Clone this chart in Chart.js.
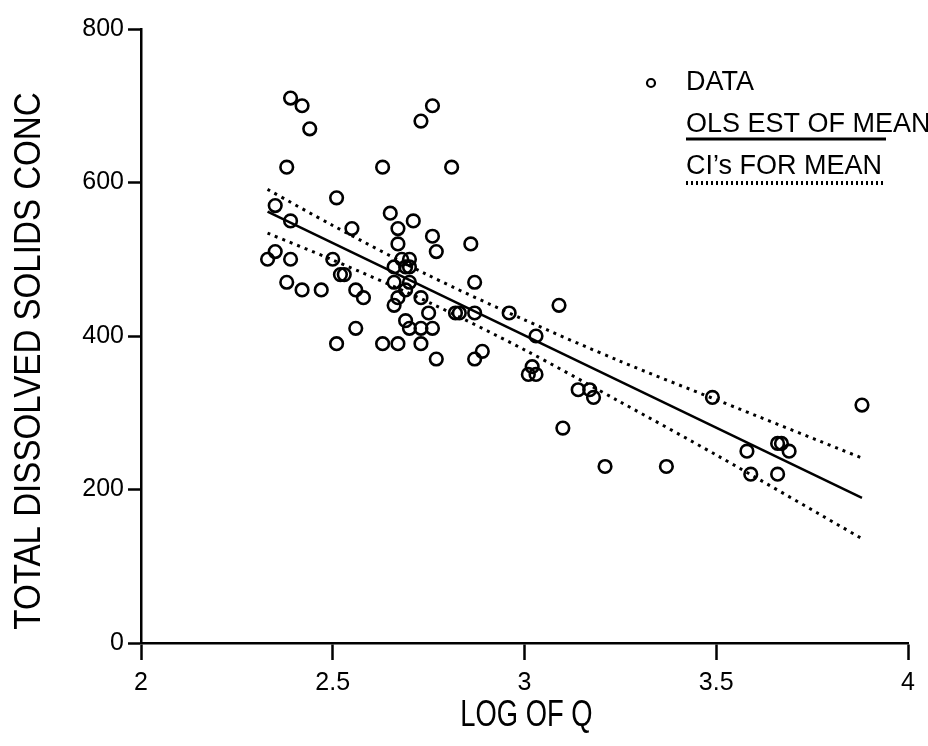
<!DOCTYPE html>
<html lang="en">

<head>
    <meta charset="UTF-8">
    <title>TDS vs log Q</title>
    <script src="https://cdn.jsdelivr.net/npm/chart.js"></script>
    <style>
        body { margin: 0; background: #fff; }
    </style>
</head>

<body>
    <canvas id="tdsChart" width="928" height="746"></canvas>
    <script>
        // observed data: log of Q and total dissolved solids
        const logQ = [2.39, 2.42, 2.44, 2.76, 2.73, 2.38, 2.63, 2.81, 2.51, 2.35,
            2.39, 2.65, 2.71, 2.55, 2.67, 2.76, 2.67, 2.77, 2.86, 2.35,
            2.33, 2.39, 2.50, 2.68, 2.70, 2.66, 2.69, 2.70, 2.52, 2.53,
            2.38, 2.66, 2.70, 2.87, 2.42, 2.47, 2.56, 2.69, 2.58, 2.67,
            2.73, 2.66, 2.75, 2.82, 2.83, 2.87, 2.69, 2.56, 2.70, 2.73,
            2.76, 2.51, 2.63, 2.67, 2.73, 2.77, 2.87, 2.89, 3.09, 2.96,
            3.03, 3.02, 3.01, 3.03, 3.14, 3.17, 3.18, 3.49, 3.10, 3.21,
            3.37, 3.88, 3.66, 3.67, 3.58, 3.69, 3.59, 3.66];
        const tds = [710, 700, 670, 700, 680, 620, 620, 620, 580, 570,
            550, 560, 550, 540, 540, 530, 520, 510, 520, 510,
            500, 500, 500, 500, 500, 490, 490, 490, 480, 480,
            470, 470, 470, 470, 460, 460, 460, 460, 450, 450,
            450, 440, 430, 430, 430, 430, 420, 410, 410, 410,
            410, 390, 390, 390, 390, 370, 370, 380, 440, 430,
            400, 360, 350, 350, 330, 330, 320, 320, 280, 230,
            230, 310, 260, 260, 250, 250, 220, 220];

        // OLS line end points
        const olsX = [2.33, 3.88];
        const olsY = [562, 189];

        // confidence band for the mean
        const ciX = [2.33, 2.5, 2.75, 3.0, 3.25, 3.5, 3.88];
        const ciUpper = [591, 544, 479, 421, 367, 317, 241];
        const ciLower = [534, 499, 444, 382, 314, 245, 136];

        const xTicks = [2, 2.5, 3, 3.5, 4];
        const yTicks = [0, 200, 400, 600, 800];

        const xTitle = 'LOG OF Q';
        const yTitle = 'TOTAL DISSOLVED SOLIDS CONC';

        const FONT = "'Liberation Sans', Arial, Helvetica, sans-serif";

        function pairs(xs, ys) {
            return xs.map((x, i) => ({ x: x, y: ys[i] }));
        }

        // axis titles in a narrow face, squeezed sideways
        const titlePlugin = {
            id: 'narrowTitles',
            afterDraw(chart) {
                const ctx = chart.ctx;
                const area = chart.chartArea;
                ctx.save();
                ctx.fillStyle = '#000';
                ctx.font = '36px ' + FONT;
                ctx.textAlign = 'center';
                ctx.textBaseline = 'middle';

                ctx.save();
                ctx.translate((area.left + area.right) / 2 + 2, area.bottom + 73);
                ctx.scale(0.76, 1);
                ctx.fillText(xTitle, 0, 0);
                ctx.restore();

                ctx.save();
                ctx.translate(30, (area.top + area.bottom) / 2 + 25);
                ctx.rotate(-Math.PI / 2);
                ctx.scale(0.92, 1);
                ctx.fillText(yTitle, 0, 0);
                ctx.restore();

                ctx.restore();
            }
        };

        // legend drawn by hand in the upper right corner
        const legendPlugin = {
            id: 'handLegend',
            afterDraw(chart) {
                const ctx = chart.ctx;
                const area = chart.chartArea;
                const tx = area.right - 222;
                ctx.save();
                ctx.fillStyle = '#000';
                ctx.strokeStyle = '#000';
                ctx.font = '27px ' + FONT;
                ctx.textBaseline = 'middle';

                ctx.lineWidth = 2.2;
                ctx.beginPath();
                ctx.arc(tx - 35, area.top + 54, 4, 0, Math.PI * 2);
                ctx.stroke();
                ctx.fillText('DATA', tx, area.top + 54);

                ctx.fillText('OLS EST OF MEAN', tx, area.top + 96);
                ctx.lineWidth = 3;
                ctx.beginPath();
                ctx.moveTo(tx, area.top + 110);
                ctx.lineTo(tx + 200, area.top + 110);
                ctx.stroke();

                ctx.fillText('CI\u2019s FOR MEAN', tx, area.top + 138);
                ctx.lineWidth = 4;
                ctx.setLineDash([2, 3]);
                ctx.beginPath();
                ctx.moveTo(tx, area.top + 154);
                ctx.lineTo(tx + 200, area.top + 154);
                ctx.stroke();
                ctx.restore();
            }
        };

        const ctx = document.getElementById('tdsChart').getContext('2d');

        new Chart(ctx, {
            type: 'scatter',
            data: {
                datasets: [
                    {
                        label: 'DATA',
                        data: pairs(logQ, tds),
                        pointStyle: 'circle',
                        pointRadius: 6.3,
                        pointBorderWidth: 2.6,
                        borderColor: '#000',
                        backgroundColor: 'rgba(0,0,0,0)',
                        showLine: false
                    },
                    {
                        label: 'OLS EST OF MEAN',
                        data: pairs(olsX, olsY),
                        showLine: true,
                        borderColor: '#000',
                        borderWidth: 2.5,
                        pointRadius: 0
                    },
                    {
                        label: 'CI upper',
                        data: pairs(ciX, ciUpper),
                        showLine: true,
                        borderColor: '#000',
                        borderWidth: 3,
                        borderDash: [3, 5],
                        tension: 0.3,
                        pointRadius: 0
                    },
                    {
                        label: 'CI lower',
                        data: pairs(ciX, ciLower),
                        showLine: true,
                        borderColor: '#000',
                        borderWidth: 3,
                        borderDash: [3, 5],
                        tension: 0.3,
                        pointRadius: 0
                    }
                ]
            },
            options: {
                responsive: false,
                animation: false,
                layout: {
                    padding: { top: 29, right: 20, left: 0, bottom: 0 }
                },
                plugins: {
                    legend: { display: false },
                    tooltip: { enabled: false }
                },
                scales: {
                    x: {
                        type: 'linear',
                        min: 2,
                        max: 4,
                        afterFit: s => { s.height = 103; },
                        afterBuildTicks: s => { s.ticks = xTicks.map(v => ({ value: v })); },
                        border: { display: true, color: '#000', width: 2.5 },
                        grid: {
                            drawOnChartArea: false,
                            drawTicks: true,
                            tickLength: 17,
                            tickWidth: 2.5,
                            color: '#000'
                        },
                        ticks: {
                            color: '#000',
                            padding: 8,
                            font: { family: FONT, size: 25 },
                            callback: v => String(v)
                        },
                        title: { display: false }
                    },
                    y: {
                        type: 'linear',
                        min: 0,
                        max: 800,
                        afterFit: s => { s.width = 141; },
                        afterBuildTicks: s => { s.ticks = yTicks.map(v => ({ value: v })); },
                        border: { display: true, color: '#000', width: 2.5 },
                        grid: {
                            drawOnChartArea: false,
                            drawTicks: true,
                            tickLength: 13,
                            tickWidth: 2.5,
                            color: '#000'
                        },
                        ticks: {
                            color: '#000',
                            padding: 4,
                            font: { family: FONT, size: 25 },
                            callback: v => String(v)
                        },
                        title: { display: false }
                    }
                }
            },
            plugins: [titlePlugin, legendPlugin]
        });
    </script>
</body>

</html>
